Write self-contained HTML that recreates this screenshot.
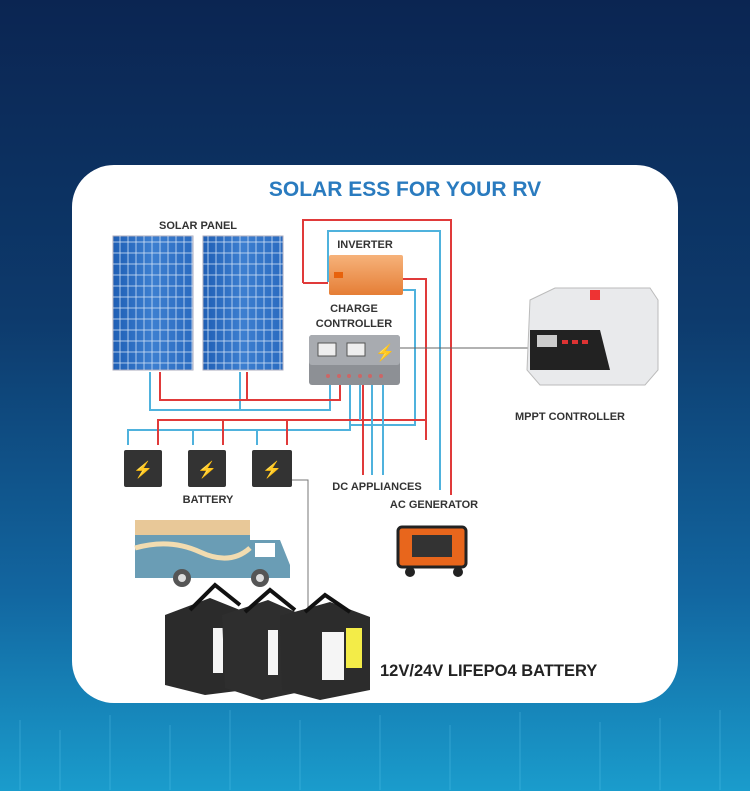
<!DOCTYPE html><html><head><style>body{margin:0;width:750px;height:791px;overflow:hidden}</style></head><body>
<svg width="750" height="791" xmlns="http://www.w3.org/2000/svg" font-family="Liberation Sans, sans-serif">
<defs>
<linearGradient id="bg" x1="0" y1="0" x2="0" y2="1"><stop offset="0" stop-color="#0b2552"/><stop offset="0.4" stop-color="#0d3a6c"/><stop offset="0.75" stop-color="#1266a0"/><stop offset="1" stop-color="#1a9ccc"/></linearGradient>
<linearGradient id="pn" x1="0" y1="0" x2="1" y2="0"><stop offset="0" stop-color="#1f5fb5"/><stop offset="0.5" stop-color="#3d7fd0"/><stop offset="1" stop-color="#2a6bc0"/></linearGradient>
<pattern id="cells" width="8" height="11" patternUnits="userSpaceOnUse"><rect width="8" height="11" fill="none" stroke="#cfe0f5" stroke-width="0.8"/></pattern>
<linearGradient id="inv" x1="0" y1="0" x2="0" y2="1"><stop offset="0" stop-color="#f6b27a"/><stop offset="1" stop-color="#e57e36"/></linearGradient>
</defs>
<rect width="750" height="791" fill="url(#bg)"/>
<g opacity="0.25" stroke="#7fe0ff" stroke-width="1">
<path d="M20 720v70M60 730v60M110 715v75M170 725v65M230 710v80M300 720v70M380 715v75M450 725v65M520 712v78M600 722v68M660 718v72M720 710v80"/>
</g>
<rect x="72" y="165" width="606" height="538" rx="42" fill="#fff"/>
<text x="405" y="196" font-size="21" font-weight="bold" fill="#2a7bbf" text-anchor="middle">SOLAR ESS FOR YOUR RV</text>
<text x="198" y="229" font-size="11" font-weight="bold" fill="#333" text-anchor="middle">SOLAR PANEL</text>
<rect x="113" y="236" width="80" height="134" fill="url(#pn)" stroke="#aab" /><rect x="113" y="236" width="80" height="134" fill="url(#cells)"/>
<rect x="203" y="236" width="80" height="134" fill="url(#pn)" stroke="#aab"/><rect x="203" y="236" width="80" height="134" fill="url(#cells)"/>
<g fill="none" stroke-width="2">
<path d="M303 283V220H451V495" stroke="#e03a3a"/>
<path d="M328 283H303" stroke="#e03a3a"/>
<path d="M328 282V231H440V490" stroke="#4fb2dd"/>
<path d="M403 279H426V440" stroke="#e03a3a"/>
<path d="M403 290H415V425H350" stroke="#4fb2dd"/>
<path d="M150 372V410H330V380M240 372V410" stroke="#4fb2dd"/>
<path d="M160 372V400H340V380M247 372V400" stroke="#e03a3a"/>
<path d="M128 445V430H350V380M193 445V430M257 445V430" stroke="#4fb2dd"/>
<path d="M158 445V420H426M223 445V420M287 445V420" stroke="#e03a3a"/>
<path d="M360 380V420M372 380V475M383 380V475" stroke="#4fb2dd"/>
<path d="M363 380V475" stroke="#e03a3a"/>
</g>
<path d="M400 348H530" stroke="#666" stroke-width="1"/>
<path d="M292 480H308V620" stroke="#777" stroke-width="1" fill="none"/>
<rect x="329" y="255" width="74" height="40" fill="url(#inv)" rx="2"/>
<rect x="334" y="272" width="9" height="6" fill="#e8620c"/>
<text x="365" y="248" font-size="11" font-weight="bold" fill="#333" text-anchor="middle">INVERTER</text>
<text x="354" y="312" font-size="11" font-weight="bold" fill="#333" text-anchor="middle">CHARGE</text>
<text x="354" y="327" font-size="11" font-weight="bold" fill="#333" text-anchor="middle">CONTROLLER</text>
<rect x="309" y="335" width="91" height="50" rx="3" fill="#8d9095"/>
<rect x="309" y="335" width="91" height="30" rx="3" fill="#a8abb0"/>
<rect x="318" y="343" width="18" height="13" fill="#eee" stroke="#555"/><rect x="347" y="343" width="18" height="13" fill="#eee" stroke="#555"/>
<text x="385" y="358" font-size="16" fill="#f0c020" text-anchor="middle">⚡</text>
<g fill="#c66"><circle cx="328" cy="376" r="2"/><circle cx="339" cy="376" r="2"/><circle cx="349" cy="376" r="2"/><circle cx="360" cy="376" r="2"/><circle cx="370" cy="376" r="2"/><circle cx="381" cy="376" r="2"/></g>
<g fill="#333"><rect x="124" y="450" width="38" height="37" rx="2"/><rect x="188" y="450" width="38" height="37" rx="2"/><rect x="252" y="450" width="40" height="37" rx="2"/></g>
<g font-size="16" fill="#f3c018" text-anchor="middle"><text x="143" y="475">⚡</text><text x="207" y="475">⚡</text><text x="272" y="475">⚡</text></g>
<text x="208" y="503" font-size="11" font-weight="bold" fill="#333" text-anchor="middle">BATTERY</text>
<text x="377" y="490" font-size="11" font-weight="bold" fill="#333" text-anchor="middle">DC APPLIANCES</text>
<text x="434" y="508" font-size="11" font-weight="bold" fill="#333" text-anchor="middle">AC GENERATOR</text>
<path d="M530 300L555 288H650L658 300V370L645 385H540L527 370Z" fill="#e9eaec" stroke="#bbb"/>
<path d="M530 330H600L610 370H530Z" fill="#222"/>
<rect x="590" y="290" width="10" height="10" fill="#e33"/>
<rect x="537" y="335" width="20" height="12" fill="#ccc"/>
<g fill="#d33"><rect x="562" y="340" width="6" height="4"/><rect x="572" y="340" width="6" height="4"/><rect x="582" y="340" width="6" height="4"/></g>
<text x="570" y="420" font-size="11" font-weight="bold" fill="#333" text-anchor="middle">MPPT CONTROLLER</text>
<path d="M135 520H250V540H280L290 565V578H135Z" fill="#6a9db5"/>
<path d="M135 520H250V535H135Z" fill="#e8c898"/>
<path d="M135 548Q170 538 200 552T250 548" stroke="#f2dcb0" stroke-width="5" fill="none"/>
<rect x="255" y="543" width="20" height="14" fill="#fff"/>
<circle cx="182" cy="578" r="9" fill="#555"/><circle cx="182" cy="578" r="4" fill="#ddd"/>
<circle cx="260" cy="578" r="9" fill="#555"/><circle cx="260" cy="578" r="4" fill="#ddd"/>
<rect x="398" y="527" width="68" height="40" rx="4" fill="#e8661c" stroke="#222" stroke-width="3"/>
<rect x="412" y="535" width="40" height="22" fill="#333"/>
<circle cx="410" cy="572" r="5" fill="#222"/><circle cx="458" cy="572" r="5" fill="#222"/>
<g>
<path d="M165 615L210 598L245 612V690L205 695L165 685Z" fill="#2b2b2b"/>
<path d="M190 610L215 585L240 605" stroke="#111" stroke-width="4" fill="none"/>
<rect x="213" y="628" width="10" height="45" fill="#f5f5f5"/>
<path d="M222 615L268 600L300 614V692L262 700L225 688Z" fill="#2e2e2e"/>
<path d="M245 612L270 590L295 610" stroke="#111" stroke-width="4" fill="none"/>
<rect x="268" y="630" width="10" height="45" fill="#f5f5f5"/>
<path d="M280 616L330 602L370 617V690L320 700L282 690Z" fill="#2c2c2c"/>
<path d="M305 612L325 595L350 612" stroke="#111" stroke-width="4" fill="none"/>
<rect x="322" y="632" width="22" height="48" fill="#f5f5f5"/>
<rect x="346" y="628" width="16" height="40" fill="#f3ec48"/>
</g>
<text x="380" y="676" font-size="16.5" font-weight="bold" fill="#222">12V/24V LIFEPO4 BATTERY</text>
</svg>
</body></html>
